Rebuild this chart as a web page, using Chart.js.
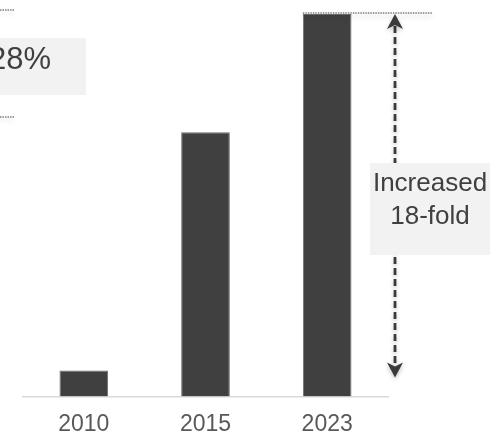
<!DOCTYPE html>
<html>
<head>
<meta charset="utf-8">
<script src="https://cdn.jsdelivr.net/npm/chart.js@4.4.1/dist/chart.umd.min.js"></script>
<style>
  html, body { margin: 0; padding: 0; background: #fff; }
  #wrap { width: 497px; height: 438px; position: relative; }
</style>
</head>
<body>
<div id="wrap"><canvas id="chart"></canvas></div>
<script>
// data
const years = ['2010', '2015', '2023'];
const values = [6.8, 69.1, 100];   // relative height, 2023 = 100
const calloutLines = ['Increased', '18-fold'];
const sideLabel = '28%';

const FONT = '"Liberation Sans", Arial, sans-serif';

// arrows, dotted guide lines and text boxes
const annotate = {
  id: 'annotate',
  afterDraw(chart) {
    const ctx = chart.ctx;
    const y = chart.scales.y;
    const meta = chart.getDatasetMeta(0);
    const last = meta.data[meta.data.length - 1];
    const topY = y.getPixelForValue(values[values.length - 1]);
    const baseY = y.getPixelForValue(0);
    const arrowX = 395;

    ctx.save();

    // dotted guide line at the top of the last bar
    ctx.save();
    ctx.shadowColor = 'rgba(0,0,0,0.25)';
    ctx.shadowBlur = 5;
    ctx.shadowOffsetY = 3;
    ctx.strokeStyle = '#808080';
    ctx.lineWidth = 1.5;
    ctx.setLineDash([1.5, 1]);
    ctx.beginPath();
    ctx.moveTo(last.x - last.width / 2, topY - 1);
    ctx.lineTo(432, topY - 1);
    ctx.stroke();
    ctx.restore();

    // dotted stubs on the left (from the cut off panel)
    ctx.save();
    ctx.shadowColor = 'rgba(0,0,0,0.2)';
    ctx.shadowBlur = 5;
    ctx.shadowOffsetY = 3;
    ctx.strokeStyle = '#808080';
    ctx.lineWidth = 1.5;
    ctx.setLineDash([1.5, 1]);
    [10, 117].forEach(yy => {
      ctx.beginPath();
      ctx.moveTo(0, yy);
      ctx.lineTo(14, yy);
      ctx.stroke();
    });
    ctx.restore();

    // double headed dashed arrow
    const headTop = topY;
    const headBot = baseY - 19;
    ctx.save();
    ctx.shadowColor = 'rgba(0,0,0,0.25)';
    ctx.shadowBlur = 4;
    ctx.shadowOffsetY = 2;
    ctx.strokeStyle = '#3a3a3a';
    ctx.fillStyle = '#3a3a3a';
    ctx.lineWidth = 2.8;
    ctx.setLineDash([7, 4]);
    ctx.beginPath();
    ctx.moveTo(arrowX, headTop + 12);
    ctx.lineTo(arrowX, headBot - 12);
    ctx.stroke();
    ctx.setLineDash([]);
    function head(tipY, dir) {
      ctx.beginPath();
      ctx.moveTo(arrowX, tipY);
      ctx.lineTo(arrowX - 8, tipY + dir * 15);
      ctx.lineTo(arrowX, tipY + dir * 11);
      ctx.lineTo(arrowX + 8, tipY + dir * 15);
      ctx.closePath();
      ctx.fill();
    }
    head(headTop, 1);
    head(headBot, -1);
    ctx.restore();

    // callout box
    ctx.fillStyle = '#f2f2f2';
    ctx.fillRect(370, 163, 120, 92);
    ctx.fillStyle = '#404040';
    ctx.font = '26px ' + FONT;
    ctx.textAlign = 'center';
    ctx.textBaseline = 'middle';
    ctx.fillText(calloutLines[0], 430, 184);
    ctx.fillText(calloutLines[1], 430, 217);

    // left box
    ctx.fillStyle = '#f2f2f2';
    ctx.fillRect(0, 38, 86, 57);
    ctx.fillStyle = '#404040';
    ctx.font = '31px ' + FONT;
    ctx.textAlign = 'right';
    ctx.fillText(sideLabel, 51, 60);

    ctx.restore();
  }
};

new Chart(document.getElementById('chart'), {
  type: 'bar',
  data: {
    labels: years,
    datasets: [{
      data: values,
      backgroundColor: '#404040',
      borderColor: '#6e6e6e',
      borderWidth: 1,
      barPercentage: 0.4,
      categoryPercentage: 1
    }]
  },
  options: {
    responsive: true,
    maintainAspectRatio: false,
    animation: false,
    layout: { padding: { left: 23, right: 109, top: 14, bottom: -14 } },
    scales: {
      x: {
        grid: { display: false, drawTicks: false },
        border: { display: true, color: '#d9d9d9', width: 1.5 },
        ticks: { color: '#595959', padding: 14, font: { family: FONT, size: 23 } }
      },
      y: { display: false, min: 0, max: 100 }
    },
    plugins: {
      legend: { display: false },
      tooltip: { enabled: false }
    }
  },
  plugins: [annotate]
});
</script>
</body>
</html>
